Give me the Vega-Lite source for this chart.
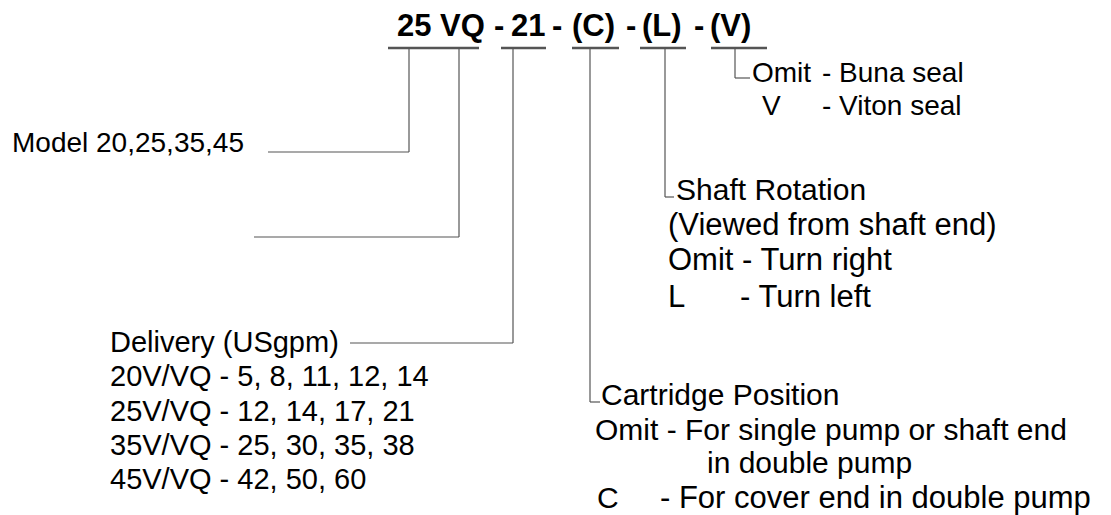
{
  "$schema": "https://vega.github.io/schema/vega-lite/v6.json",
  "width": 1111,
  "height": 515,
  "autosize": {"type": "fit", "contains": "padding"},
  "padding": 0,
  "background": "white",
  "config": {"view": {"stroke": null}},
  "datasets": {
    "lines": [
      {"x1": 388, "y1": 48, "x2": 479, "y2": 48, "kind": "underline"},
      {"x1": 501, "y1": 48, "x2": 546, "y2": 48, "kind": "underline"},
      {"x1": 572, "y1": 48, "x2": 619, "y2": 48, "kind": "underline"},
      {"x1": 640, "y1": 48, "x2": 686, "y2": 48, "kind": "underline"},
      {"x1": 711, "y1": 48, "x2": 767, "y2": 48, "kind": "underline"},
      {"x1": 409, "y1": 48, "x2": 409, "y2": 152, "kind": "leader"},
      {"x1": 268, "y1": 152, "x2": 409, "y2": 152, "kind": "leader"},
      {"x1": 459, "y1": 48, "x2": 459, "y2": 237, "kind": "leader"},
      {"x1": 254, "y1": 237, "x2": 459, "y2": 237, "kind": "leader"},
      {"x1": 513, "y1": 48, "x2": 513, "y2": 343, "kind": "leader"},
      {"x1": 350, "y1": 343, "x2": 513, "y2": 343, "kind": "leader"},
      {"x1": 590, "y1": 48, "x2": 590, "y2": 402, "kind": "leader"},
      {"x1": 590, "y1": 402, "x2": 600, "y2": 402, "kind": "leader"},
      {"x1": 665, "y1": 48, "x2": 665, "y2": 197, "kind": "leader"},
      {"x1": 665, "y1": 197, "x2": 674, "y2": 197, "kind": "leader"},
      {"x1": 735, "y1": 48, "x2": 735, "y2": 78, "kind": "leader"},
      {"x1": 735, "y1": 78, "x2": 750, "y2": 78, "kind": "leader"}
    ],
    "title": [
      {"x": 397, "y": 36, "text": "25 VQ"},
      {"x": 494, "y": 36, "text": "-"},
      {"x": 511, "y": 36, "text": "21"},
      {"x": 552, "y": 36, "text": "-"},
      {"x": 572, "y": 36, "text": "(C)"},
      {"x": 626, "y": 36, "text": "-"},
      {"x": 642, "y": 36, "text": "(L)"},
      {"x": 694, "y": 36, "text": "-"},
      {"x": 710, "y": 36, "text": "(V)"}
    ],
    "labels": [
      {"x": 752, "y": 82, "text": "Omit", "size": 28},
      {"x": 822, "y": 82, "text": "- Buna seal", "size": 28},
      {"x": 762, "y": 115, "text": "V", "size": 28},
      {"x": 822, "y": 115, "text": "- Viton seal", "size": 28},
      {"x": 12, "y": 152, "text": "Model 20,25,35,45", "size": 28},
      {"x": 676, "y": 200, "text": "Shaft Rotation", "size": 30},
      {"x": 668, "y": 235, "text": "(Viewed from shaft end)", "size": 31},
      {"x": 668, "y": 270, "text": "Omit - Turn right", "size": 31},
      {"x": 668, "y": 307, "text": "L", "size": 31},
      {"x": 740, "y": 307, "text": "- Turn left", "size": 31},
      {"x": 110, "y": 352, "text": "Delivery (USgpm)", "size": 29},
      {"x": 110, "y": 386, "text": "20V/VQ - 5, 8, 11, 12, 14", "size": 29},
      {"x": 110, "y": 421, "text": "25V/VQ - 12, 14, 17, 21", "size": 29},
      {"x": 110, "y": 455, "text": "35V/VQ - 25, 30, 35, 38", "size": 29},
      {"x": 110, "y": 489, "text": "45V/VQ - 42, 50, 60", "size": 29},
      {"x": 601, "y": 405, "text": "Cartridge Position", "size": 30},
      {"x": 595, "y": 440, "text": "Omit - For single pump or shaft end", "size": 30},
      {"x": 707, "y": 473, "text": "in double pump", "size": 30},
      {"x": 597, "y": 508, "text": "C", "size": 30},
      {"x": 660, "y": 508, "text": "- For cover end in double pump", "size": 31}
    ]
  },
  "layer": [
    {
      "data": {"name": "lines"},
      "mark": {"type": "rule", "color": "#555555"},
      "encoding": {
        "x": {"field": "x1", "type": "quantitative", "scale": {"domain": [0, 1111], "nice": false, "zero": false}, "axis": null},
        "x2": {"field": "x2"},
        "y": {"field": "y1", "type": "quantitative", "scale": {"domain": [515, 0], "nice": false, "zero": false}, "axis": null},
        "y2": {"field": "y2"},
        "strokeWidth": {
          "field": "kind", "type": "nominal",
          "scale": {"domain": ["underline", "leader"], "range": [2.5, 1.2]},
          "legend": null
        }
      }
    },
    {
      "data": {"name": "title"},
      "mark": {"type": "text", "align": "left", "baseline": "alphabetic", "font": "Liberation Sans", "fontSize": 31, "fontWeight": "bold", "color": "#000000"},
      "encoding": {
        "x": {"field": "x", "type": "quantitative"},
        "y": {"field": "y", "type": "quantitative"},
        "text": {"field": "text"}
      }
    },
    {
      "data": {"name": "labels"},
      "mark": {"type": "text", "align": "left", "baseline": "alphabetic", "font": "Liberation Sans", "color": "#000000"},
      "encoding": {
        "x": {"field": "x", "type": "quantitative"},
        "y": {"field": "y", "type": "quantitative"},
        "text": {"field": "text"},
        "size": {"field": "size", "type": "quantitative", "scale": null, "legend": null}
      }
    }
  ],
  "resolve": {"scale": {"x": "shared", "y": "shared"}}
}
